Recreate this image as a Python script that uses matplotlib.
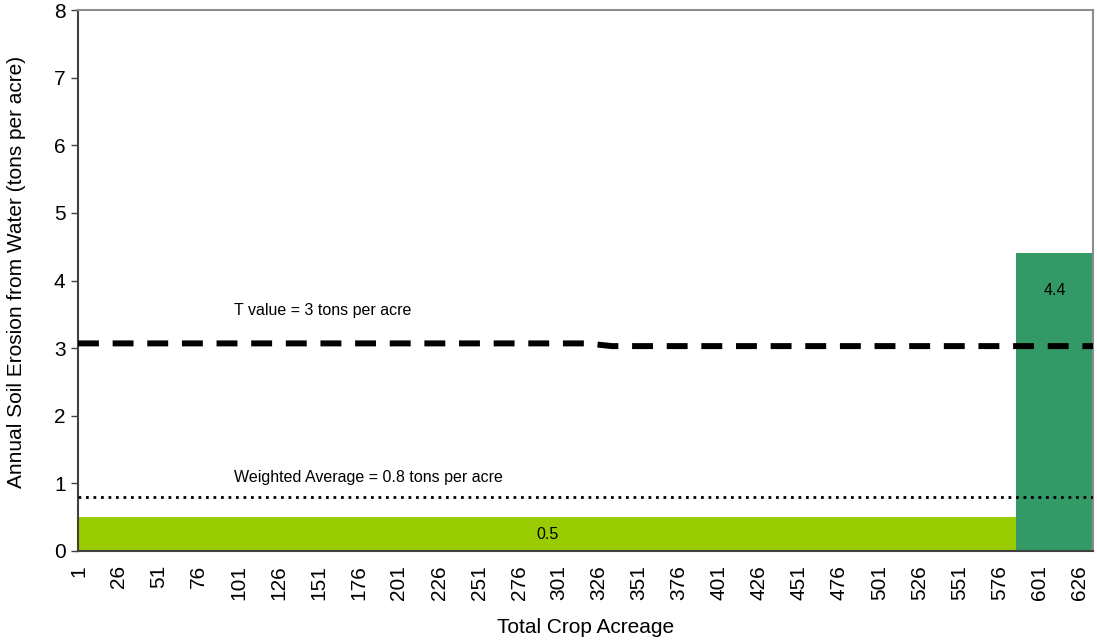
import numpy as np
from matplotlib import pyplot as plt

# acreage of each crop and its annual erosion rate
crop_acres = [586, 48]
erosion_rate = [0.5, 4.4]
bar_colors = ['#99CC00', '#339966']

# T value line, drawn as two pieces with a small step near acre 326
t_x = [0.5, 318, 334, 634.5]
t_y = [3.07, 3.07, 3.03, 3.03]

tick_acres = list(range(1, 627, 25))

plt.rcParams['font.family'] = ['Liberation Sans', 'DejaVu Sans']

fig = plt.figure(figsize=(10.97, 6.41), dpi=100)
ax = fig.add_axes([78 / 1097, 1 - 551 / 641, 1015 / 1097, 541 / 641])

total = sum(crop_acres)
weighted = sum(a * r for a, r in zip(crop_acres, erosion_rate)) / total

left = 0.5
for acres, rate, col in zip(crop_acres, erosion_rate, bar_colors):
    ax.bar(left, rate, width=acres, align='edge', color=col, zorder=1)
    left += acres

# T value and weighted average lines
ax.plot(t_x, t_y, color='black', lw=4.3, dashes=(3.5, 2.3), zorder=3)
ax.axhline(weighted, color='black', lw=2.0, dashes=(1.0, 1.7), zorder=3)

# bar labels
ax.text(0.5 + crop_acres[0] / 2, erosion_rate[0] / 2, f'{erosion_rate[0]:.1f}',
        ha='center', va='center', fontsize=11.5)
ax.text(0.5 + crop_acres[0] + crop_acres[1] / 2, erosion_rate[1] - 0.55,
        f'{erosion_rate[1]:.1f}', ha='center', va='center', fontsize=11.5)

ax.text(98, 3.56, 'T value = 3 tons per acre', fontsize=11.5, va='center')
ax.text(98, 1.09, f'Weighted Average = {weighted:.1f} tons per acre',
        fontsize=11.5, va='center')

ax.set_xlim(0.5, total + 0.5)
ax.set_ylim(0, 8)
ax.set_xticks(tick_acres)
ax.set_xticklabels([str(t) for t in tick_acres], rotation=90, fontsize=15)
ax.tick_params(axis='x', length=0, pad=10)
ax.set_yticks(range(0, 9))
ax.tick_params(axis='y', labelsize=15, length=5, width=1, color='#404040', pad=4)

ax.spines['left'].set_color('#404040')
ax.spines['bottom'].set_color('#404040')
ax.spines['top'].set_color('#8c8c8c')
ax.spines['right'].set_color('#8c8c8c')
for s in ax.spines.values():
    s.set_linewidth(1.5)

ax.set_xlabel('Total Crop Acreage', fontsize=15)
ax.xaxis.set_label_coords(0.5, -0.124)
ax.set_ylabel('Annual Soil Erosion from Water (tons per acre)', fontsize=15)
ax.yaxis.set_label_coords(-0.051, 0.515)

fig.savefig('out.png', dpi=100)
